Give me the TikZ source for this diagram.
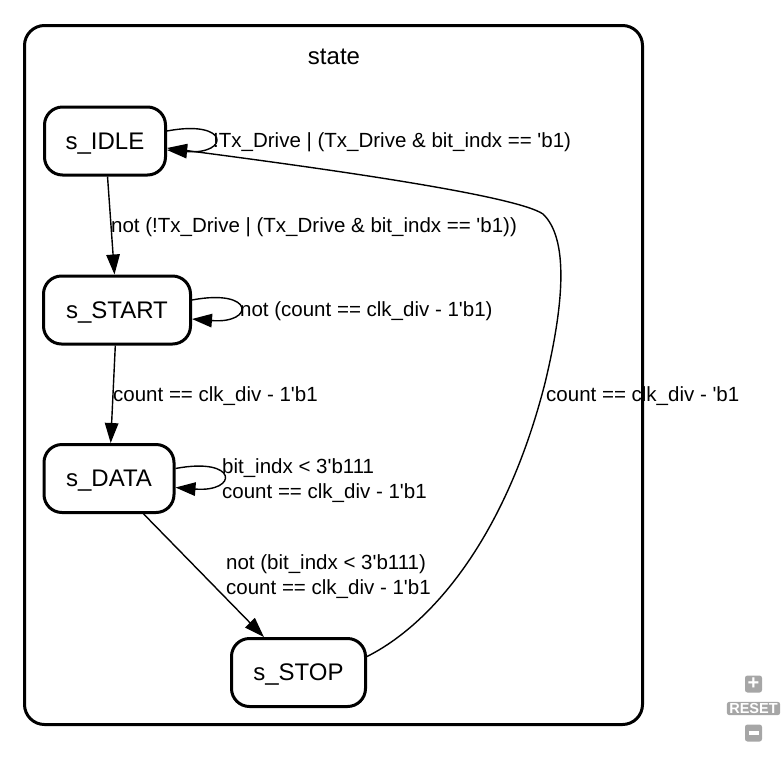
\documentclass[tikz,border=0pt]{standalone}
\usepackage{fontspec}
\setmainfont{Liberation Sans}
\usetikzlibrary{arrows.meta,calc}
\newcommand{\sq}{\textquotesingle}
\begin{document}
\begin{tikzpicture}[x=1pt,y=-1pt,
  stnode/.style={draw, line width=3pt, rounded corners=18pt, minimum height=68pt, inner sep=0pt, text depth=0pt, font=\fontsize{24}{28}\selectfont},
  edge/.style={line width=1.4pt, -{Triangle[length=20pt,width=13.5pt]}},
  lbl/.style={anchor=west, inner sep=0pt, align=left, font=\fontsize{20.5}{25}\selectfont},
  ctrl/.style={fill=black!35, text=white, rounded corners=2.5pt, inner sep=1.5pt, font=\bfseries\fontsize{14.5}{15}\selectfont}]
\useasboundingbox (0,0) rectangle (784,764);
% cluster
\node[draw, line width=3pt, rounded corners=20pt, minimum width=618pt, minimum height=699pt, inner sep=0pt] (cluster) at (333.5,375) {};
\node[font=\fontsize{24}{28}\selectfont, inner sep=0pt] (title) at (334,57) {state};
% states
\node[stnode, minimum width=121pt] (idle) at (105,141) {s\_IDLE};
\node[stnode, minimum width=147pt] (start) at (117,310) {s\_START};
\node[stnode, minimum width=130pt] (data) at (109,478.5) {s\_DATA};
\node[stnode, minimum width=134pt] (stop) at (298.5,672.5) {s\_STOP};
% edges
\draw[edge] ($(idle.east)+(0,-10)$) .. controls ($(idle.east)+(63,-22)$) and ($(idle.east)+(63,14)$) .. ($(idle.east)+(0,9)$);
\node[lbl] (l1) at (213,142) {!Tx\_Drive | (Tx\_Drive \& bit\_indx == \sq b1)};
\draw[edge] (idle) -- (start);
\node[lbl] (l2) at (111,227) {not (!Tx\_Drive | (Tx\_Drive \& bit\_indx == \sq b1))};
\draw[edge] ($(start.east)+(0,-10)$) .. controls ($(start.east)+(63,-22)$) and ($(start.east)+(63,14)$) .. ($(start.east)+(0,9)$);
\node[lbl] (l3) at (240,311) {not (count == clk\_div - 1\sq b1)};
\draw[edge] (start) -- (data);
\node[lbl] (l4) at (113,396) {count == clk\_div - 1\sq b1};
\draw[edge] ($(data.east)+(0,-10)$) .. controls ($(data.east)+(63,-22)$) and ($(data.east)+(63,14)$) .. ($(data.east)+(0,9)$);
\node[lbl] (l5) at (222,480.5) {bit\_indx < 3\sq b111\\count == clk\_div - 1\sq b1};
\draw[edge] (data) -- (stop);
\node[lbl] (l6) at (226,577) {not (bit\_indx < 3\sq b111)\\count == clk\_div - 1\sq b1};
\draw[edge] ($(stop.east)+(0,-16)$) .. controls (430,625) and (505,540) .. (545,383)
   .. controls (565,300) and (568,238) .. (543,214)
   .. controls (515,195) and (320,168) .. ($(idle.east)+(0,7)$);
\node[lbl] (l7) at (546,396) {count == clk\_div - \sq b1};
% zoom controls
\node[ctrl, minimum width=17pt, minimum height=17pt, font=\bfseries\fontsize{20}{20}\selectfont, inner sep=0pt] (plus) at (753.5,684) {+};
\node[ctrl, inner xsep=2.5pt] (reset) at (753.5,708.5) {RESET};
\node[ctrl, minimum width=17pt, minimum height=17pt, inner sep=0pt] (minus) at (753.5,733) {\rule{10pt}{3.5pt}};
\end{tikzpicture}
\end{document}
